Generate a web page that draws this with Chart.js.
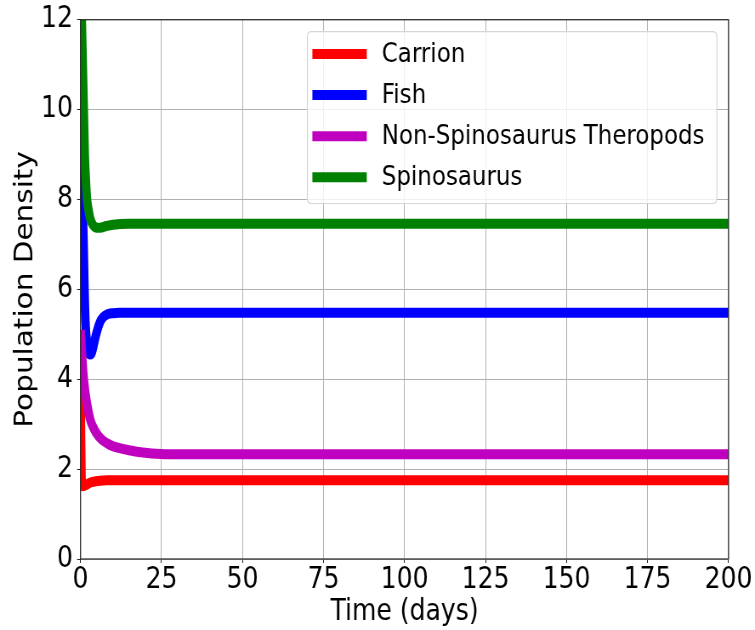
<!DOCTYPE html>
<html lang="en">
<head>
    <meta charset="UTF-8">
    <title>Population Density over Time</title>
    <script src="https://cdn.jsdelivr.net/npm/chart.js@4.4.1/dist/chart.umd.min.js"></script>
    <style>
        html, body {
            margin: 0;
            padding: 0;
            background: #ffffff;
            overflow: hidden;
        }
        /* the reference is horizontally squeezed, so draw wider and scale */
        .wrap {
            width: 888px;
            height: 630px;
            transform: scaleX(0.8502);
            transform-origin: 0 0;
        }
    </style>
</head>
<body>
    <div class="wrap">
        <canvas id="popChart" width="888" height="630"></canvas>
    </div>

    <script>
        // Series (time in days, population density)
        const seriesNames = ['Carrion', 'Fish', 'Non-Spinosaurus Theropods', 'Spinosaurus'];
        const seriesColors = ['#ff0000', '#0000ff', '#bf00bf', '#008000'];

        const carrionT = [0, 0.15, 0.3, 0.5, 1, 2, 3, 4, 6, 8, 12, 200];
        const carrionY = [3.9, 2.8, 1.9, 1.63, 1.62, 1.66, 1.7, 1.72, 1.74, 1.75, 1.75, 1.75];

        const fishT = [0, 0.3, 0.6, 0.9, 1.2, 1.5, 2, 2.5, 3, 3.5, 4.3, 5, 6, 7, 8.4, 10, 12, 200];
        const fishY = [9.3, 8.6, 8.0, 7.2, 6.1, 5.3, 4.8, 4.6, 4.55, 4.6, 4.85, 5.05, 5.27, 5.38, 5.45, 5.47, 5.48, 5.48];

        const theropodT = [0, 0.5, 1, 2, 3, 4, 5, 6.5, 8.3, 10, 12.4, 15, 18, 22, 30, 200];
        const theropodY = [5.1, 4.5, 4.0, 3.45, 3.1, 2.92, 2.79, 2.66, 2.57, 2.51, 2.46, 2.42, 2.38, 2.35, 2.33, 2.33];

        const spinoT = [0, 0.5, 1, 1.3, 1.6, 2, 2.5, 3, 4, 5, 6, 8, 10, 15, 200];
        const spinoY = [13.5, 11.6, 10.0, 9.0, 8.5, 8.0, 7.75, 7.57, 7.42, 7.37, 7.37, 7.41, 7.44, 7.46, 7.46];

        const xTickStep = 25;
        const yTickStep = 2;

        function toPoints(ts, ys) {
            return ts.map((t, i) => ({ x: t, y: ys[i] }));
        }

        const allSeries = [
            toPoints(carrionT, carrionY),
            toPoints(fishT, fishY),
            toPoints(theropodT, theropodY),
            toPoints(spinoT, spinoY)
        ];

        const FONT = "'DejaVu Sans', 'Liberation Sans', sans-serif";

        // full box around the plot, like matplotlib spines
        const framePlugin = {
            id: 'frame',
            afterDatasetsDraw(chart) {
                const a = chart.chartArea;
                const ctx = chart.ctx;
                ctx.save();
                ctx.strokeStyle = '#262626';
                ctx.lineWidth = 1.2;
                ctx.strokeRect(a.left, a.top, a.right - a.left, a.bottom - a.top);
                ctx.restore();
            }
        };

        // legend box in the upper right corner
        const legendPlugin = {
            id: 'boxLegend',
            afterDraw(chart) {
                const ctx = chart.ctx;
                const left = 361.5, top = 31.7, right = 843.2, bottom = 203.5, r = 5;
                ctx.save();
                ctx.beginPath();
                ctx.moveTo(left + r, top);
                ctx.lineTo(right - r, top);
                ctx.quadraticCurveTo(right, top, right, top + r);
                ctx.lineTo(right, bottom - r);
                ctx.quadraticCurveTo(right, bottom, right - r, bottom);
                ctx.lineTo(left + r, bottom);
                ctx.quadraticCurveTo(left, bottom, left, bottom - r);
                ctx.lineTo(left, top + r);
                ctx.quadraticCurveTo(left, top, left + r, top);
                ctx.closePath();
                ctx.fillStyle = 'rgba(255,255,255,0.8)';
                ctx.fill();
                ctx.strokeStyle = '#d6d6d6';
                ctx.lineWidth = 1.2;
                ctx.stroke();

                ctx.font = '27px ' + FONT;
                ctx.textBaseline = 'middle';
                ctx.textAlign = 'left';
                chart.data.datasets.forEach((ds, i) => {
                    const y = 54 + i * 41.1;
                    ctx.strokeStyle = ds.borderColor;
                    ctx.lineWidth = 10;
                    ctx.lineCap = 'butt';
                    ctx.beginPath();
                    ctx.moveTo(367.4, y);
                    ctx.lineTo(431.4, y);
                    ctx.stroke();
                    ctx.fillStyle = '#000000';
                    ctx.fillText(ds.label, 449, y + 1);
                });
                ctx.restore();
            }
        };

        const ctx = document.getElementById('popChart').getContext('2d');
        new Chart(ctx, {
            type: 'line',
            data: {
                datasets: allSeries.map((pts, i) => ({
                    label: seriesNames[i],
                    data: pts,
                    borderColor: seriesColors[i],
                    backgroundColor: seriesColors[i],
                    borderWidth: 10,
                    borderJoinStyle: 'round',
                    pointRadius: 0,
                    cubicInterpolationMode: 'monotone',
                    clip: 0,
                    order: 4 - i
                }))
            },
            options: {
                responsive: false,
                animation: false,
                events: [],
                layout: {
                    padding: { left: 0, right: 31.1, top: 17.7, bottom: 0 }
                },
                plugins: {
                    legend: { display: false },
                    tooltip: { enabled: false }
                },
                scales: {
                    x: {
                        type: 'linear',
                        min: 0,
                        max: 200,
                        afterFit: (scale) => { scale.height = 71; },
                        ticks: {
                            stepSize: xTickStep,
                            color: '#000000',
                            font: { family: FONT, size: 29.5 },
                            padding: 0,
                            maxRotation: 0
                        },
                        grid: {
                            color: '#b0b0b0',
                            lineWidth: 1,
                            tickColor: '#262626',
                            tickLength: 4
                        },
                        border: { display: false },
                        title: {
                            display: true,
                            text: 'Time (days)',
                            color: '#000000',
                            font: { family: FONT, size: 29.5 },
                            padding: { top: 0, bottom: 0 }
                        }
                    },
                    y: {
                        min: 0,
                        max: 12,
                        afterFit: (scale) => { scale.width = 94.7; },
                        ticks: {
                            stepSize: yTickStep,
                            color: '#000000',
                            font: { family: FONT, size: 29.5, lineHeight: 1 },
                            padding: 5
                        },
                        grid: {
                            color: '#b0b0b0',
                            lineWidth: 1,
                            tickColor: '#262626',
                            tickLength: 4
                        },
                        border: { display: false },
                        title: {
                            display: true,
                            text: 'Population Density',
                            color: '#000000',
                            font: { family: FONT, size: 29.5 },
                            padding: { top: 13, bottom: 0 }
                        }
                    }
                }
            },
            plugins: [framePlugin, legendPlugin]
        });
    </script>
</body>
</html>
